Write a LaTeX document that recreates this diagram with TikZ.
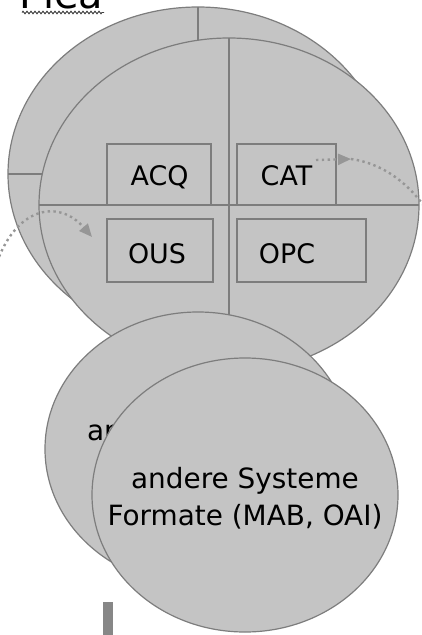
\documentclass[tikz,border=0pt]{standalone}
\usepackage{fontspec}
\setmainfont{DejaVu Sans}
\usetikzlibrary{shapes.geometric,arrows.meta,decorations.pathmorphing}
\definecolor{efill}{RGB}{196,196,196}
\definecolor{eline}{RGB}{125,125,125}
\definecolor{dotc}{RGB}{150,150,150}
\definecolor{barc}{RGB}{135,135,135}
\begin{document}
\begin{tikzpicture}[x=1bp,y=-1bp,
  bigell/.style={ellipse,draw=eline,fill=efill,line width=1.2bp,minimum width=380bp,minimum height=334bp,inner sep=0,outer sep=0},
  smallell/.style={ellipse,draw=eline,fill=efill,line width=1.2bp,minimum width=306bp,minimum height=274bp,inner sep=0,outer sep=0},
  divline/.style={draw=eline,line width=1.3bp},
  modbox/.style={rectangle,draw=eline,line width=1.1bp,inner sep=0,outer sep=0},
  modtext/.style={font=\fontsize{27}{32}\selectfont,anchor=base,inner sep=0},
  systext/.style={font=\fontsize{28}{37}\selectfont,align=center,inner sep=0},
  dotarrow/.style={draw=dotc,line width=2.4bp,dash pattern=on 2.4bp off 3.4bp},
  tip/.style={-{Triangle[length=13bp,width=11bp]}}
]
\useasboundingbox (0,0) rectangle (421,635);

% title (cut off at the top, as in the reference)
\node[font=\fontsize{40}{48}\selectfont,anchor=base west,inner sep=0] (title) at (19,9) {Plea};
\coordinate (sq1) at (22,12.5);
\coordinate (sq2) at (104,12.5);
\draw[black!75,line width=0.9bp,decorate,decoration={zigzag,segment length=4bp,amplitude=1.3bp}] (sq1) -- (sq2);

% back big ellipse
\node[bigell] (B1) at (198,174) {};
\draw[divline] (B1.north) -- (B1.south);
\draw[divline] (B1.west) -- (B1.east);

% front big ellipse
\node[bigell] (B2) at (229,205) {};
\draw[divline] (B2.north) -- (B2.south);
\draw[divline] (B2.west) -- (B2.east);

% module boxes
\node[modbox,minimum width=104bp,minimum height=61bp] (acq) at (159,174.5) {};
\node[modbox,minimum width=99bp,minimum height=61bp] (cat) at (286.5,174.5) {};
\node[modbox,minimum width=106bp,minimum height=63bp] (ous) at (160,250.5) {};
\node[modbox,minimum width=129bp,minimum height=63bp] (opc) at (301.5,250.5) {};
\node[modtext] (tacq) at (159.5,186) {ACQ};
\node[modtext] (tcat) at (286.5,186) {CAT};
\node[modtext] (tous) at (157,263) {OUS};
\node[modtext] (topc) at (287,263) {OPC};

% dotted arrows
\coordinate (la0) at (-3,262);
\coordinate (la1) at (92,237);
\draw[dotarrow,tip] (la0) .. controls (18,205) and (60,200) .. (la1);
\coordinate (ra0) at (316,160);
\coordinate (ra1) at (351,159);
\coordinate (ra2) at (424,206);
\draw[dotarrow,tip] (ra0) -- (ra1);
\draw[dotarrow] (ra1) .. controls (380,163) and (405,180) .. (ra2);

% lower ellipses
\node[smallell] (L1) at (198,449) {};
\node[systext,anchor=base] (t1) at (201,440) {andere Systeme};
\node[smallell] (L2) at (245,495) {};
\node[systext] (t2) at (245,498) {andere Systeme\\Formate (MAB, OAI)};

% grey bar
\fill[barc] (103,602) rectangle (113,637);
\end{tikzpicture}
\end{document}
